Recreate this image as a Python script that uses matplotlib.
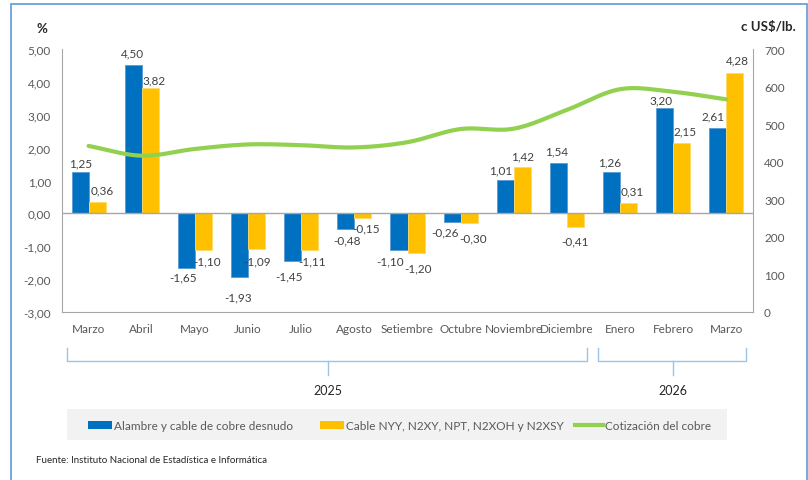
import numpy as np
import matplotlib
matplotlib.use("Agg")
import matplotlib.pyplot as plt
from matplotlib.patches import Rectangle
from matplotlib.lines import Line2D
import matplotlib.transforms as mtransforms

plt.rcParams['font.family'] = ['Lato', 'DejaVu Sans']

# ---------------- data ----------------
months = ["Marzo", "Abril", "Mayo", "Junio", "Julio", "Agosto", "Setiembre",
          "Octubre", "Noviembre", "Diciembre", "Enero", "Febrero", "Marzo"]
years = ["2025"] * 10 + ["2026"] * 3
alambre = [1.25, 4.50, -1.65, -1.93, -1.45, -0.48, -1.10, -0.26, 1.01, 1.54, 1.26, 3.20, 2.61]
cable = [0.36, 3.82, -1.10, -1.09, -1.11, -0.15, -1.20, -0.30, 1.42, -0.41, 0.31, 2.15, 4.28]
cotizacion = [442, 416, 434, 446, 444, 438, 452, 487, 488, 538, 593, 586, 566]

left_ticks = [-3, -2, -1, 0, 1, 2, 3, 4, 5]
right_ticks = [0, 100, 200, 300, 400, 500, 600, 700]

series_names = ["Alambre y cable de cobre desnudo",
                "Cable NYY, N2XY, NPT, N2XOH y N2XSY",
                "Cotización del cobre"]

# label placement (pixels from bar end; style only)
lab_dx_a = [1, -1, -3, -1, -4, 1, -9, -7, -5, -2, -2, -4, -5]
lab_dy_a = [9, 13, 9, 20, 15, 11, 11, 10, 10, 12, 10, 8, 12]
lab_dx_c = [5, 4, 4, 1, 2, 3, 2, 4, 0, 0, 4, 3, 2]
lab_dy_c = [12, 8, 11, 12, 11, 10, 15, 15, 11, 14, 12, 12, 13]

BLUE = "#0070C0"
YELLOW = "#FFC000"
GREEN = "#92D050"
GRAY_TXT = "#595959"
LBL_TXT = "#404040"
AX_GRAY = "#A6A6A6"
FS = 8.5

W, H = 808, 481
fig = plt.figure(figsize=(W / 100, H / 100), dpi=100)
fig.patch.set_facecolor("white")


def fx(x):
    return x / W


def fy(y):
    return 1 - y / H


ax = fig.add_axes([fx(62), fy(313), fx(753) - fx(62), fy(50) - fy(313)])
ax2 = ax.twinx()

x = np.arange(len(months))
bw = 0.32
ax.bar(x - bw / 2, alambre, bw, color=BLUE, edgecolor="#5B9BD5", linewidth=0.6, zorder=2)
ax.bar(x + bw / 2, cable, bw, color=YELLOW, edgecolor="#FFD966", linewidth=0.6, zorder=2)
ax.axhline(0, color=AX_GRAY, linewidth=1.0, zorder=3)


def fmt(v):
    return f"{v:.2f}".replace(".", ",")


for i in range(len(months)):
    for val, xo, dx, dy in ((alambre[i], x[i] - bw / 2, lab_dx_a[i], lab_dy_a[i]),
                            (cable[i], x[i] + bw / 2, lab_dx_c[i], lab_dy_c[i])):
        off = dy if val >= 0 else -dy
        ax.annotate(fmt(val), (xo, val), xytext=(dx, off), textcoords="offset pixels",
                    ha="center", va="center", fontsize=FS, color=LBL_TXT, zorder=5)

ax.set_xlim(-0.5, len(months) - 0.5)
ax.set_ylim(-3, 5)
ax.set_yticks(left_ticks)
ax.set_yticklabels([fmt(t) for t in left_ticks])
ax.set_xticks(x)
ax.set_xticklabels(months)
ax.tick_params(axis="x", length=0, pad=8, labelsize=FS, colors=GRAY_TXT)
ax.tick_params(axis="y", length=0, pad=8, labelsize=FS, colors=GRAY_TXT)
for s in ["top", "right"]:
    ax.spines[s].set_visible(False)
ax.spines["left"].set_color(AX_GRAY)
ax.spines["bottom"].set_color(AX_GRAY)

# smoothed copper line (Catmull-Rom through the data points)
pts = np.column_stack([x, cotizacion]).astype(float)
P = np.vstack([pts[0] - (pts[1] - pts[0]), pts, pts[-1] + (pts[-1] - pts[-2])])
curve = []
for k in range(1, len(P) - 2):
    p0, p1, p2, p3 = P[k - 1], P[k], P[k + 1], P[k + 2]
    for t in np.linspace(0, 1, 25, endpoint=False):
        t2, t3 = t * t, t * t * t
        curve.append(0.5 * ((2 * p1) + (-p0 + p2) * t + (2 * p0 - 5 * p1 + 4 * p2 - p3) * t2
                            + (-p0 + 3 * p1 - 3 * p2 + p3) * t3))
curve.append(pts[-1])
curve = np.array(curve)
ax2.plot(curve[:, 0], curve[:, 1], color=GREEN, linewidth=3.0, solid_capstyle="round", zorder=4)
ax2.set_ylim(0, 700)
ax2.set_yticks(right_ticks)
ax2.tick_params(axis="y", length=0, pad=8, labelsize=FS, colors=GRAY_TXT)
for s in ["top", "left", "bottom"]:
    ax2.spines[s].set_visible(False)
ax2.spines["right"].set_color(AX_GRAY)

# axis titles
fig.text(fx(42), fy(29), "%", ha="center", va="center", fontsize=9.5, fontweight="bold", color="#262626")
fig.text(fx(768), fy(27), "c US$/lb.", ha="center", va="center", fontsize=9.5, fontweight="bold", color="#262626")

# year brackets
trans = mtransforms.blended_transform_factory(ax.transData, fig.transFigure)
BR = "#9DC3E6"
groups = []
for i, yv in enumerate(years):
    if groups and groups[-1][0] == yv:
        groups[-1][2] = i
    else:
        groups.append([yv, i, i])
for yv, i0, i1 in groups:
    xl, xr = i0 - 0.41, i1 + 0.37
    xm = (i0 + i1) / 2
    ax.add_line(Line2D([xl, xl, xr, xr], [fy(349), fy(362), fy(362), fy(349)], transform=trans,
                       color=BR, linewidth=1.0, clip_on=False))
    ax.add_line(Line2D([xm, xm], [fy(362), fy(376)], transform=trans, color=BR, linewidth=1.0, clip_on=False))
    ax.text(xm, fy(391), yv, transform=trans, ha="center", va="center", fontsize=9, color="#262626")

# legend (manual)
fig.patches.append(Rectangle((fx(67), fy(441)), fx(727) - fx(67), fy(410) - fy(441),
                             transform=fig.transFigure, facecolor="#F2F2F2", edgecolor="none", zorder=0))
ly = fy(426)
fig.patches.append(Rectangle((fx(88), fy(430)), fx(24), fy(422) - fy(430), transform=fig.transFigure,
                             facecolor=BLUE, edgecolor="none"))
fig.text(fx(114), ly, series_names[0], ha="left", va="center", fontsize=FS, color=GRAY_TXT)
fig.patches.append(Rectangle((fx(320), fy(430)), fx(24), fy(422) - fy(430), transform=fig.transFigure,
                             facecolor=YELLOW, edgecolor="none"))
fig.text(fx(346), ly, series_names[1], ha="left", va="center", fontsize=FS, color=GRAY_TXT)
fig.lines.append(Line2D([fx(575), fx(603)], [ly, ly], transform=fig.transFigure, color=GREEN, linewidth=3))
fig.text(fx(605), ly, series_names[2], ha="left", va="center", fontsize=FS, color=GRAY_TXT)

fig.text(fx(36), fy(461), "Fuente: Instituto Nacional de Estadística e Informática", ha="left", va="center",
         fontsize=7, color="#262626")

# outer border
fig.patches.append(Rectangle((fx(11), fy(495)), fx(807) - fx(11), fy(5) - fy(495), transform=fig.transFigure,
                             facecolor="none", edgecolor="#5B9BD5", linewidth=1.2, zorder=10))

fig.savefig("out.png", dpi=100)
